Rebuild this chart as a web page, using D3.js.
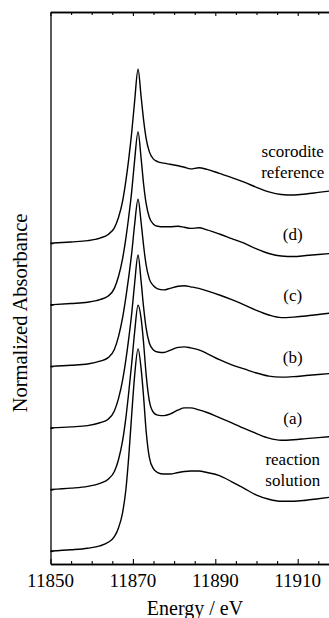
<!DOCTYPE html>
<html><head><meta charset="utf-8"><script src="https://cdn.jsdelivr.net/npm/d3@7"></script></head>
<body style="margin:0">
<svg id="chart" width="329" height="618"></svg>
<script>
// XANES spectra, stacked with a constant vertical offset
const energy=[11850,11855,11859,11862,11864,11865.5,11866.5,11867.5,11868.3,11869,11869.7,11870.4,11871.25,
  11872,11872.6,11873.2,11874,11875,11876,11877.5,11879,11881,11882.5,11884,11886,11888,11891,11894,11897,11900,11903,11906,11909,11912,11915,11918];

const reactionSolution=[0,0.025,0.055,0.10,0.17,0.28,0.45,0.75,1.20,1.85,2.65,3.40,3.94,
  3.55,3.00,2.35,1.82,1.60,1.53,1.50,1.50,1.53,1.55,1.56,1.56,1.53,1.47,1.35,1.22,1.09,1.01,0.97,0.97,0.99,1.02,1.05];
const sampleA=[0,0.025,0.06,0.12,0.20,0.35,0.58,0.95,1.40,1.90,2.45,3.05,3.59,
  3.33,2.85,2.25,1.72,1.50,1.45,1.44,1.47,1.55,1.59,1.59,1.55,1.50,1.40,1.30,1.19,1.09,1.00,0.96,0.97,0.99,1.01,1.03];
const sampleB=[0,0.02,0.045,0.10,0.17,0.33,0.57,0.93,1.33,1.75,2.22,2.80,3.37,
  2.85,2.35,1.95,1.65,1.52,1.48,1.47,1.51,1.57,1.58,1.56,1.52,1.45,1.33,1.23,1.15,1.07,1.01,0.99,1.00,1.02,1.04,1.06];
const sampleC=[0,0.02,0.045,0.10,0.17,0.33,0.58,0.95,1.35,1.75,2.20,2.75,3.26,
  2.80,2.35,1.98,1.70,1.57,1.51,1.49,1.52,1.56,1.57,1.55,1.52,1.47,1.39,1.30,1.20,1.09,1.00,0.95,0.96,0.98,1.01,1.04];
const sampleD=[0,0.025,0.05,0.10,0.17,0.32,0.55,0.90,1.30,1.72,2.20,2.80,3.37,
  2.85,2.35,1.98,1.70,1.57,1.53,1.52,1.52,1.53,1.51,1.49,1.50,1.46,1.38,1.29,1.20,1.09,1.00,0.95,0.94,0.96,0.98,1.00];
const scorodite=[0,0.025,0.05,0.10,0.17,0.30,0.50,0.82,1.22,1.65,2.15,2.75,3.39,
  2.85,2.40,2.05,1.78,1.64,1.59,1.56,1.54,1.51,1.48,1.45,1.47,1.44,1.36,1.28,1.19,1.09,1.00,0.95,0.94,0.96,0.99,1.02];

const seriesNames=["reaction solution","(a)","(b)","(c)","(d)","scorodite reference"];
const seriesValues=[reactionSolution,sampleA,sampleB,sampleC,sampleD,scorodite];
const offsets=[0,1.2,2.4,3.6,4.8,6.0];

const majorTicks=[11850,11870,11890,11910];
const minorTicks=[11855,11860,11865,11875,11880,11885,11895,11900,11905,11915];

const FONT='Liberation Serif';
const svg=d3.select('#chart');
const L=50.5,T=12,B=564;
const x=d3.scaleLinear().domain([11850,11918]).range([L,L+68*4.12]);
const y=d3.scaleLinear().domain([-0.253,10.507]).range([B,T]);

// frame + ticks (all pointing inward)
function styleAxis(g){
  g.selectAll('path.domain').attr('stroke','#000').attr('stroke-width',1.3);
  g.selectAll('.tick line').attr('stroke','#000').attr('stroke-width',1.1);
  g.selectAll('text').remove();
}
svg.append('g').attr('transform',`translate(0,${B})`)
  .call(d3.axisBottom(x).tickValues(majorTicks).tickSize(-5).tickSizeOuter(0)).call(styleAxis);
svg.append('g').attr('transform',`translate(0,${B})`)
  .call(d3.axisBottom(x).tickValues(minorTicks).tickSize(-3).tickSizeOuter(0)).call(styleAxis);
svg.append('g').attr('transform',`translate(0,${T})`)
  .call(d3.axisTop(x).tickValues(majorTicks).tickSize(-4).tickSizeOuter(0)).call(styleAxis);
svg.append('g').attr('transform',`translate(0,${T})`)
  .call(d3.axisTop(x).tickValues(minorTicks).tickSize(-3).tickSizeOuter(0)).call(styleAxis);
svg.append('g').attr('transform',`translate(${L},0)`)
  .call(d3.axisLeft(y).tickValues(offsets).tickSize(-3).tickSizeOuter(0)).call(styleAxis);

// spectra
const line=d3.line().curve(d3.curveMonotoneX);
seriesValues.forEach((vals,i)=>{
  const pts=energy.map((e,j)=>[x(e),y(offsets[i]+vals[j])]);
  svg.append('path').attr('d',line(pts))
    .attr('fill','none').attr('stroke','#000').attr('stroke-width',1.4);
});

// texts, same pattern as a plain text test that rendered serif
svg.append('text').attr('x',x(11850)).attr('y',587).attr('text-anchor','middle').attr('font-size',19).style('font-family',FONT).text('11850');
svg.append('text').attr('x',x(11870)).attr('y',587).attr('text-anchor','middle').attr('font-size',19).style('font-family',FONT).text('11870');
svg.append('text').attr('x',x(11890)).attr('y',587).attr('text-anchor','middle').attr('font-size',19).style('font-family',FONT).text('11890');
svg.append('text').attr('x',x(11910)).attr('y',587).attr('text-anchor','middle').attr('font-size',19).style('font-family',FONT).text('11910');
seriesNames.forEach((name,i)=>{
  const lines=name.split(' ');
  const yb=y(offsets[i]+1.27);
  lines.forEach((s,k)=>{
    svg.append('text').attr('x',x(11908.8)).attr('y',yb-(lines.length-1-k)*21)
      .attr('text-anchor','middle').attr('font-size',17).style('font-family',FONT).text(s);
  });
});
svg.append('text').attr('x',195).attr('y',615).attr('text-anchor','middle')
  .attr('font-size',20).style('font-family',FONT).text('Energy / eV');
svg.append('text').attr('transform','translate(27,313) rotate(-90)').attr('text-anchor','middle')
  .attr('font-size',20.5).style('font-family',FONT).text('Normalized Absorbance');
</script>
</body></html>
